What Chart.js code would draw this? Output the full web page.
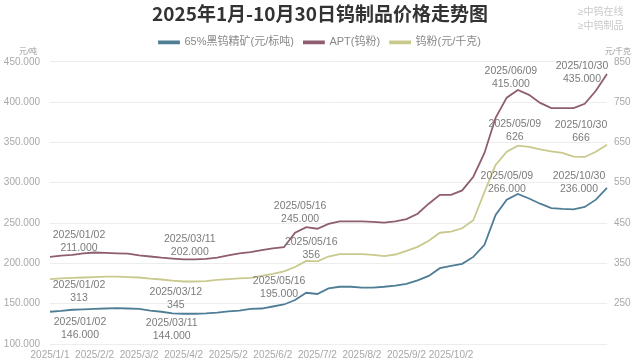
<!DOCTYPE html>
<html>
<head>
<meta charset="utf-8">
<script src="https://cdn.jsdelivr.net/npm/chart.js@4"></script>
<style>
	html, body { margin: 0; padding: 0; background: #fff; }
	#wrap { width: 640px; height: 360px; position: relative; }
</style>
</head>
<body>
<div id="wrap"><canvas id="priceChart" width="640" height="360"></canvas></div>
<script>
// x axis tick labels, one every 4 points
var tickLabels = ["2025/1/1", "2025/2/2", "2025/3/2", "2025/4/2", "2025/5/2", "2025/6/2", "2025/7/2", "2025/8/2", "2025/9/2", "2025/10/2"];

// 65%黑钨精矿 (元/标吨)
var concentrate = [140000, 141000, 142500, 143000, 143500, 144000, 144500, 144000, 143500, 141500, 140000, 138000, 137500, 137500, 138000, 139000, 140500, 141500, 143500, 144000, 146500, 149000, 154500, 163500, 162000, 169000, 171000, 171000, 170000, 170000, 171000, 172500, 174500, 179000, 184500, 194000, 197000, 199500, 208000, 223000, 260000, 279000, 286000, 280500, 274000, 268500, 267500, 267000, 270000, 279000, 293500];
// APT (元/吨)
var apt = [208000, 209500, 210500, 212500, 213500, 213000, 212500, 212000, 210000, 208500, 207000, 206000, 205000, 205000, 205500, 207000, 210000, 212500, 214000, 216500, 218500, 220000, 238000, 245000, 243000, 249000, 252000, 252000, 252000, 251500, 250500, 252000, 255000, 261500, 274000, 285000, 285000, 290500, 307500, 337000, 380500, 405500, 415000, 409000, 399000, 392500, 392500, 392500, 398000, 414000, 435000];
// 钨粉 (元/千克)
var powder = [311, 313, 314, 315, 316, 317, 317, 316, 315, 312, 310, 307, 305, 305, 306, 309, 311, 313, 314, 319, 324, 330, 341, 356, 355, 367, 373, 373, 373, 371, 368, 372, 381, 391, 406, 426, 429, 437, 457, 527, 594, 627, 642, 639, 633, 628, 624, 615, 614, 627, 644];

var categories = concentrate.map(function (v, i) {
	return i % 4 === 0 && tickLabels[i / 4] ? tickLabels[i / 4] : "";
});

// point labels: [dataset, point index, text]
var pointNotes = [
	[1, 0, ["2025/01/02", "211.000"]],
	[1, 13, ["2025/03/11", "202.000"]],
	[1, 22, ["2025/05/16", "245.000"]],
	[1, 42, ["2025/06/09", "415.000"]],
	[1, 50, ["2025/10/30", "435.000"]],
	[2, 0, ["2025/01/02", "313"]],
	[2, 13, ["2025/03/12", "345"]],
	[2, 23, ["2025/05/16", "356"]],
	[2, 42, ["2025/05/09", "626"]],
	[2, 50, ["2025/10/30", "666"]],
	[0, 0, ["2025/01/02", "146.000"]],
	[0, 12, ["2025/03/11", "144.000"]],
	[0, 22, ["2025/05/16", "195.000"]],
	[0, 42, ["2025/05/09", "266.000"]],
	[0, 50, ["2025/10/30", "236.000"]]
];
var noteOffsets = [
	[29, -15], [-5, -14], [5, -20], [-7, -12], [-25, -1],
	[29, 13], [-19, 17], [5, -12], [-3, -15], [-26, -13],
	[30, 17], [-12, 16], [-16, -12], [-11, -11], [-28, -5]
];

var FONT = '"Liberation Sans", "Noto Sans CJK SC", sans-serif';

var notesPlugin = {
	id: "notes",
	beforeInit: function (chart) {
		// legend needs a bit more room below it
		var fit = chart.legend.fit;
		chart.legend.fit = function () {
			fit.call(this);
			this.height += 4;
		};
	},
	afterDatasetsDraw: function (chart) {
		var ctx = chart.ctx;
		ctx.save();
		ctx.font = "10.5px " + FONT;
		ctx.fillStyle = "#7b7b7b";
		ctx.textAlign = "center";
		ctx.textBaseline = "middle";
		pointNotes.forEach(function (n, k) {
			var el = chart.getDatasetMeta(n[0]).data[n[1]];
			var x = el.x + noteOffsets[k][0];
			var y = el.y + noteOffsets[k][1];
			ctx.fillText(n[2][0], x, y - 6.5);
			ctx.fillText(n[2][1], x, y + 6.5);
		});
		// unit labels
		ctx.font = "8px " + FONT;
		ctx.fillStyle = "#9a9a9a";
		ctx.fillText("元/吨", 28, 52);
		ctx.fillText("元/千克", 618, 52);
		// watermark
		ctx.font = "10px " + FONT;
		ctx.fillStyle = "#c9c9c9";
		ctx.textAlign = "left";
		ctx.fillText("≥中钨在线", 578, 12);
		ctx.fillText("≥中钨制品", 578, 26);
		ctx.restore();
	}
};

var ctx = document.getElementById("priceChart").getContext("2d");
var chart = new Chart(ctx, {
	type: "line",
	data: {
		labels: categories,
		datasets: [
			{
				label: "65%黑钨精矿(元/标吨)",
				data: concentrate,
				borderColor: "#4f7d95",
				backgroundColor: "#4f7d95",
				yAxisID: "y"
			},
			{
				label: "APT(钨粉)",
				data: apt,
				borderColor: "#8e5d70",
				backgroundColor: "#8e5d70",
				yAxisID: "y"
			},
			{
				label: "钨粉(元/千克)",
				data: powder,
				borderColor: "#c9c98e",
				backgroundColor: "#c9c98e",
				yAxisID: "y1"
			}
		]
	},
	options: {
		responsive: false,
		animation: false,
		events: [],
		elements: {
			point: { radius: 0 },
			line: { borderWidth: 1.8, tension: 0 }
		},
		layout: { padding: 0 },
		plugins: {
			title: {
				display: true,
				text: "2025年1月-10月30日钨制品价格走势图",
				color: "#333",
				font: { family: '"Noto Sans CJK SC", sans-serif', size: 19, weight: "bold" },
				padding: { top: 2, bottom: 2 }
			},
			legend: {
				position: "top",
				labels: {
					boxWidth: 20,
					boxHeight: 2,
					padding: 10,
					color: "#888",
					font: { family: FONT, size: 11 }
				}
			},
			tooltip: { enabled: false }
		},
		scales: {
			x: {
				grid: { display: false, drawTicks: false },
				border: { display: false },
				ticks: {
					autoSkip: false,
					maxRotation: 0,
					padding: 5,
					color: "#a8a8a8",
					font: { family: FONT, size: 10 }
				},
				afterFit: function (s) { s.height = 16; }
			},
			y: {
				position: "left",
				min: 100000,
				max: 450000,
				grid: { color: "#ededed", drawTicks: false },
				border: { display: false },
				ticks: {
					stepSize: 50000,
					padding: 10,
					color: "#a8a8a8",
					font: { family: FONT, size: 10 },
					callback: function (v) { return v / 1000 + ".000"; }
				},
				afterFit: function (s) { s.width = 50; }
			},
			y1: {
				position: "right",
				min: 150,
				max: 850,
				grid: { display: false, drawTicks: false },
				border: { display: false },
				ticks: {
					stepSize: 100,
					padding: 7,
					color: "#a8a8a8",
					font: { family: FONT, size: 10 },
					callback: function (v) { return v === 150 ? "" : v; }
				},
				afterFit: function (s) { s.width = 33; }
			}
		}
	},
	plugins: [notesPlugin]
});
</script>
</body>
</html>
